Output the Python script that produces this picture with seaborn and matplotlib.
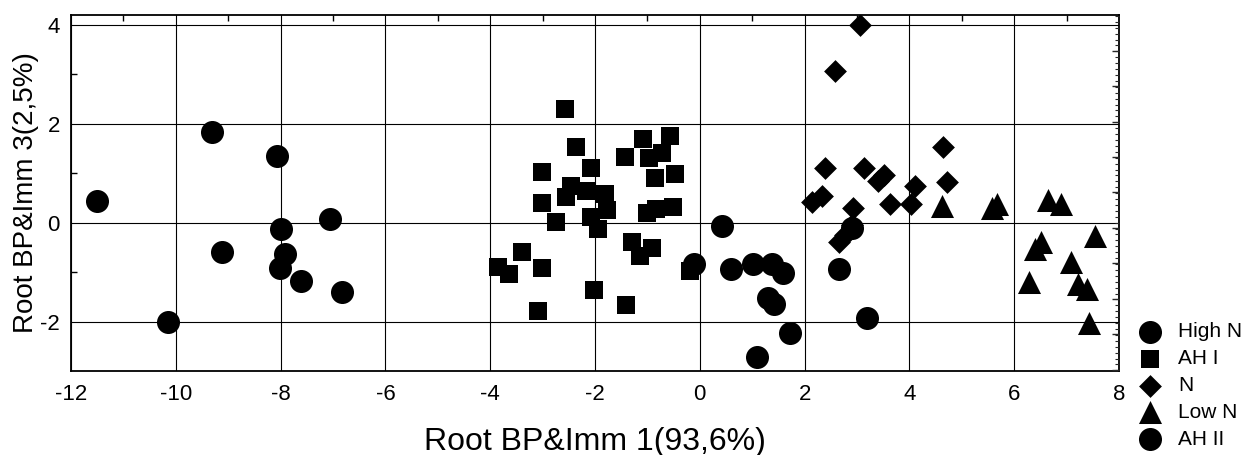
import numpy as np
import pandas as pd
import seaborn as sns
import matplotlib.pyplot as plt
from matplotlib.ticker import MultipleLocator, FixedLocator

sns.set_style("white")
plt.rcParams['font.family'] = ['Liberation Sans', 'DejaVu Sans']
plt.rcParams['axes.unicode_minus'] = False
plt.rcParams['text.color'] = 'black'
plt.rcParams['axes.labelcolor'] = 'black'

# Data

high_n_x = [-11.51, -9.30, -8.07, -7.05, -7.99, -9.11, -7.91, -8.01, -7.62, -6.83, -10.15]
high_n_y = [0.43, 1.84, 1.34, 0.07, -0.12, -0.59, -0.64, -0.91, -1.18, -1.41, -2.00]

ah1_x = [-2.57, -2.36, -1.08, -0.56, -1.43, -0.97, -0.73, -2.07, -3.02, -0.86, -0.47,
         -2.46, -2.18, -2.55, -1.80, -1.78, -3.02, -2.07, -1.95, -2.74, -1.00, -0.83,
         -0.51, -3.40, -3.85, -3.64, -3.02, -1.29, -0.92, -1.15, -2.01, -1.40, -3.09, -0.18]
ah1_y = [2.29, 1.54, 1.70, 1.75, 1.32, 1.30, 1.40, 1.10, 1.02, 0.90, 0.99,
         0.74, 0.65, 0.51, 0.57, 0.25, 0.39, 0.12, -0.12, 0.02, 0.20, 0.27,
         0.31, -0.60, -0.89, -1.04, -0.92, -0.39, -0.52, -0.68, -1.36, -1.66, -1.79, -0.97]

n_x = [3.06, 2.58, 4.65, 2.39, 3.14, 3.51, 3.40, 4.11, 4.72, 2.33, 2.14, 2.93, 3.63,
       4.04, 2.90, 2.78, 2.65]
n_y = [3.99, 3.06, 1.53, 1.11, 1.11, 0.97, 0.84, 0.75, 0.82, 0.54, 0.41, 0.30, 0.37,
       0.37, -0.05, -0.25, -0.40]

low_n_x = [4.63, 5.57, 5.68, 6.65, 6.89, 7.54, 6.52, 6.40, 7.09, 6.29, 7.22, 7.38, 7.42]
low_n_y = [0.34, 0.30, 0.37, 0.45, 0.37, -0.27, -0.39, -0.54, -0.80, -1.20, -1.24, -1.34, -2.03]

ah2_x = [0.43, -0.11, 0.60, 1.02, 1.38, 1.59, 1.31, 1.41, 1.73, 1.10, 2.65, 3.20, 2.90]
ah2_y = [-0.07, -0.84, -0.93, -0.84, -0.84, -1.01, -1.53, -1.65, -2.23, -2.71, -0.93, -1.93, -0.10]

groups = ["High N", "AH I", "N", "Low N", "AH II"]
xs = [high_n_x, ah1_x, n_x, low_n_x, ah2_x]
ys = [high_n_y, ah1_y, n_y, low_n_y, ah2_y]
markers = {"High N": "o", "AH I": "s", "N": "D", "Low N": "^", "AH II": "o"}
sizes = {"High N": 275, "AH I": 170, "N": 135, "Low N": 275, "AH II": 275}

df = pd.concat([pd.DataFrame({"x": x, "y": y, "group": g}) for g, x, y in zip(groups, xs, ys)],
               ignore_index=True)

# Figure

fig = plt.figure(figsize=(12.5, 4.55), dpi=100)
ax = fig.add_axes([0.0568, 0.1846, 0.8384, 0.7824])

for g in groups:
    sns.scatterplot(data=df[df.group == g], x="x", y="y", marker=markers[g], s=sizes[g],
                    color="black", linewidth=0, ax=ax, label=g, zorder=3)

ax.set_xlim(-12, 8)
ax.set_ylim(-3, 4.2)
ax.xaxis.set_major_locator(MultipleLocator(2))
ax.xaxis.set_minor_locator(MultipleLocator(1))
ax.yaxis.set_major_locator(FixedLocator([-2, 0, 2, 4]))
ax.yaxis.set_minor_locator(FixedLocator([-1, 1, 3]))
ax.grid(True, which="major", color="black", linewidth=0.8)
ax.set_axisbelow(True)

ax.tick_params(which="both", direction="in", top=True, right=False, colors="black")
ax.tick_params(which="major", length=0, labelsize=16)
ax.tick_params(axis="x", which="major", pad=9)
ax.tick_params(axis="y", which="major", pad=8)
ax.tick_params(which="minor", length=4, width=1)
for sp in ax.spines.values():
    sp.set_color("black")
    sp.set_linewidth(1.3)

# fine tick marks on the right spine
ax2 = ax.twinx()
ax2.set_ylim(ax.get_ylim())
ax2.yaxis.set_major_locator(FixedLocator(3.48 - 0.717 * np.arange(10)))
ax2.yaxis.set_minor_locator(MultipleLocator(0.1195))
ax2.tick_params(which="both", direction="in", labelright=False)
ax2.tick_params(which="major", length=5, width=1)
ax2.tick_params(which="minor", length=3, width=0.8)
ax2.grid(False)
for sp in ax2.spines.values():
    sp.set_visible(False)

ax.set_xlabel("Root BP&Imm 1(93,6%)", fontsize=23, labelpad=16)
ax.set_ylabel("Root BP&Imm 3(2,5%)", fontsize=20, labelpad=1)

leg = ax.legend(loc="upper left", bbox_to_anchor=(0.910, 0.292), bbox_transform=fig.transFigure,
                frameon=False, fontsize=15, handletextpad=0.75, labelspacing=0.38,
                borderaxespad=0, borderpad=0, handlelength=1.2)

fig.savefig("out.png", dpi=100)
